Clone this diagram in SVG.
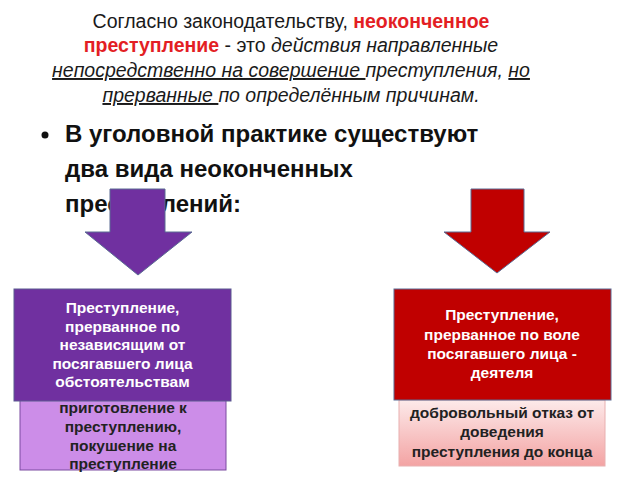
<svg xmlns="http://www.w3.org/2000/svg" width="640" height="480" viewBox="0 0 640 480">
<defs>
<linearGradient id="pinkGrad" x1="0" y1="0" x2="0" y2="1">
<stop offset="0" stop-color="#fdeaea"/>
<stop offset="1" stop-color="#f3a3a3"/>
</linearGradient>
<style>
.title{font-family:"Liberation Sans",Arial,sans-serif;font-size:19.5px;fill:#1a1a1a;text-anchor:middle}
.red{fill:#e31e24;font-weight:bold}
.it{font-style:italic}
.ul{text-decoration:underline}
.bullet{font-family:"Liberation Sans",Arial,sans-serif;font-size:24px;font-weight:bold;fill:#111}
.wt{font-family:"Liberation Sans",Arial,sans-serif;font-size:15.5px;font-weight:bold;fill:#fff;text-anchor:middle}
.dt{font-family:"Liberation Sans",Arial,sans-serif;font-size:15.5px;font-weight:bold;fill:#222;text-anchor:middle}
.arrow{stroke:#5a6b93;stroke-width:1}
</style>
</defs>
<rect width="640" height="480" fill="#fff"/>
<g id="title">
<text class="title" x="291" y="28">Согласно законодательству, <tspan class="red">неоконченное</tspan></text>
<text class="title" x="291" y="52"><tspan class="red">преступление</tspan> - это <tspan class="it">действия направленные</tspan></text>
<text class="title it" x="291" y="77"><tspan class="ul">непосредственно на совершение </tspan>преступления, <tspan class="ul">но</tspan></text>
<text class="title it" x="291" y="102"><tspan class="ul">прерванные </tspan>по определённым причинам.</text>
</g>
<g id="bullet">
<circle cx="45" cy="135" r="3.5" fill="#111"/>
<text class="bullet" x="65" y="142">В уголовной практике существуют</text>
<text class="bullet" x="65" y="177">два вида неоконченных</text>
<text class="bullet" x="65" y="212">преступлений:</text>
</g>
<g id="connectors">
<polygon class="arrow" fill="#7030a0" points="110,189 165,189 165,232 192,232 138,275 85,232 110,232"/>
<polygon class="arrow" fill="#c00000" points="471,189 524,189 524,232 550,232 497,273 444,232 471,232"/>
</g>
<g id="node-left-sub">
<rect x="20" y="397" width="206" height="73" fill="#cc8de8" stroke="#7a4aa0" stroke-width="1"/>
<text class="dt" x="123" y="413">приготовление к</text>
<text class="dt" x="123" y="432">преступлению,</text>
<text class="dt" x="123" y="451">покушение на</text>
<text class="dt" x="123" y="469">преступление</text>
</g>
<g id="node-left">
<rect x="14" y="289" width="217" height="112" fill="#7030a0" stroke="#5a5a8f" stroke-width="1"/>
<text class="wt" x="122.5" y="313">Преступление,</text>
<text class="wt" x="122.5" y="332">прерванное по</text>
<text class="wt" x="122.5" y="350">независящим от</text>
<text class="wt" x="122.5" y="369">посягавшего лица</text>
<text class="wt" x="122.5" y="387">обстоятельствам</text>
</g>
<g id="node-right-sub">
<rect x="399" y="400" width="206" height="66" fill="url(#pinkGrad)" stroke="#e8b0b0" stroke-width="1"/>
<text class="dt" x="502" y="418">добровольный отказ от</text>
<text class="dt" x="502" y="437">доведения</text>
<text class="dt" x="502" y="457">преступления до конца</text>
</g>
<g id="node-right">
<rect x="394" y="289" width="217" height="111" fill="#c00000" stroke="#5a6b93" stroke-width="1"/>
<text class="wt" x="502" y="320">Преступление,</text>
<text class="wt" x="502" y="340">прерванное по воле</text>
<text class="wt" x="502" y="359">посягавшего лица -</text>
<text class="wt" x="502" y="378">деятеля</text>
</g>
</svg>
